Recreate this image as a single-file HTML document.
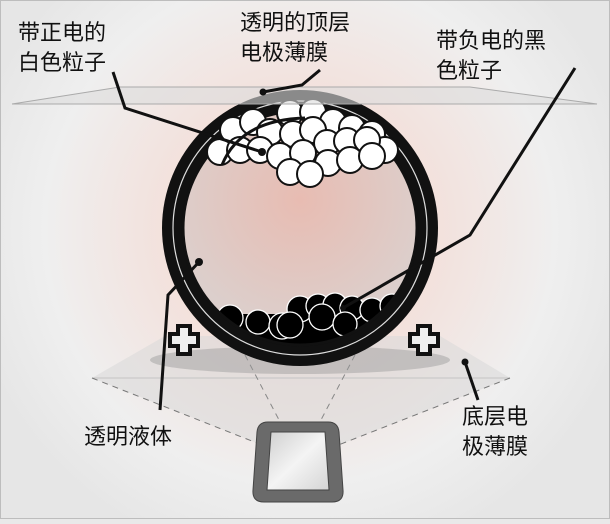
<!DOCTYPE html>
<html><head><meta charset="utf-8"><style>
html,body{margin:0;padding:0;}
body{width:610px;height:519px;overflow:hidden;background:#e9e9e9;}
svg text{font-family:"Liberation Sans","Noto Sans CJK SC",sans-serif;font-size:22px;fill:#111;}
</style></head><body>
<svg width="610" height="519" viewBox="0 0 610 519" xmlns="http://www.w3.org/2000/svg">
<defs>
<radialGradient id="bg" cx="300" cy="230" r="340" gradientUnits="userSpaceOnUse">
<stop offset="0" stop-color="#f0c2b5"/><stop offset="0.4" stop-color="#f3e1dc"/><stop offset="0.75" stop-color="#efefef"/><stop offset="1" stop-color="#e6e6e6"/>
</radialGradient>
<radialGradient id="inner" cx="300" cy="200" r="130" gradientUnits="userSpaceOnUse">
<stop offset="0" stop-color="#e8bcb2"/><stop offset="1" stop-color="#dccfcc"/>
</radialGradient>
<linearGradient id="scr" x1="0" y1="0" x2="1" y2="1"><stop offset="0" stop-color="#cfcfcf"/><stop offset="0.5" stop-color="#f4f4f4"/><stop offset="1" stop-color="#d5d5d5"/></linearGradient>
<clipPath id="ic"><circle cx="300" cy="228" r="116"/></clipPath>
</defs>
<rect width="610" height="519" fill="url(#bg)"/>
<rect x="0.5" y="0.5" width="609" height="518" fill="none" stroke="#bdbdbd"/>
<!-- bottom plane -->
<polygon points="165,336 440,336 510,378 300,460 92,378" fill="#d8d8d8" fill-opacity="0.55"/>
<line x1="92" y1="378" x2="510" y2="378" stroke="#c4c4c4"/>
<line x1="92" y1="378" x2="300" y2="460" stroke="#777" stroke-dasharray="6,5"/>
<line x1="510" y1="378" x2="300" y2="460" stroke="#777" stroke-dasharray="6,5"/>
<line x1="245" y1="355" x2="300" y2="460" stroke="#888" stroke-dasharray="6,5"/>
<line x1="355" y1="355" x2="300" y2="460" stroke="#888" stroke-dasharray="6,5"/>
<ellipse cx="300" cy="360" rx="150" ry="14" fill="#999" opacity="0.45"/>
<!-- sphere -->
<circle cx="300" cy="228" r="138" fill="#111"/>
<circle cx="300" cy="228" r="127" fill="none" stroke="#ddd" stroke-width="1.2"/>
<circle cx="300" cy="228" r="117" fill="url(#inner)"/>
<g clip-path="url(#ic)">
<rect x="150" y="314" width="300" height="100" fill="#000"/>
<g fill="#000" stroke="#fff" stroke-width="1.3">
<circle cx="230" cy="318" r="13"/><circle cx="258" cy="322" r="12"/><circle cx="282" cy="326" r="13"/>
<circle cx="300" cy="309" r="13"/><circle cx="318" cy="306" r="12"/><circle cx="335" cy="305" r="12"/>
<circle cx="352" cy="308" r="12"/><circle cx="372" cy="310" r="12"/><circle cx="392" cy="306" r="12"/>
<circle cx="290" cy="325" r="13"/><circle cx="322" cy="317" r="13"/><circle cx="345" cy="324" r="12"/>
</g>
</g>
<circle cx="300" cy="228" r="117" fill="none" stroke="#111" stroke-width="3"/>
<g fill="#fff" stroke="#111" stroke-width="2">
<circle cx="220" cy="152" r="13"/><circle cx="233" cy="130" r="13"/><circle cx="253" cy="122" r="13"/>
<circle cx="290" cy="113" r="13"/><circle cx="313" cy="112" r="13"/><circle cx="333" cy="122" r="13"/>
<circle cx="352" cy="128" r="13"/><circle cx="372" cy="134" r="13"/><circle cx="385" cy="150" r="13"/>
<circle cx="240" cy="150" r="13"/><circle cx="270" cy="132" r="13"/><circle cx="293" cy="134" r="13"/>
<circle cx="313" cy="130" r="13"/><circle cx="327" cy="143" r="13"/><circle cx="347" cy="141" r="13"/>
<circle cx="367" cy="140" r="13"/><circle cx="260" cy="150" r="13"/><circle cx="280" cy="156" r="13"/>
<circle cx="303" cy="153" r="13"/><circle cx="328" cy="163" r="13"/><circle cx="350" cy="160" r="13"/>
<circle cx="372" cy="156" r="13"/><circle cx="290" cy="172" r="13"/><circle cx="310" cy="174" r="13"/>
</g>
<path d="M222 165 Q240 120 305 118" fill="none" stroke="#111" stroke-width="3"/>
<!-- top plane (over sphere) -->
<polygon points="120,87 470,87 597,104 12,104" fill="#dcdcdc" fill-opacity="0.6" stroke="#aaa" stroke-width="1"/>
<!-- crosses -->
<g fill="#eee" stroke="#111" stroke-width="4" stroke-linejoin="miter">
<path d="M178 334h-8v12h8v8h12v-8h8v-12h-8v-8h-12z"/>
<path d="M418 334h-8v12h8v8h12v-8h8v-12h-8v-8h-12z"/>
</g>
<!-- tablet -->
<path d="M268 422 H328 Q338 422 339 432 L343 490 Q344 502 332 502 H264 Q252 502 253 490 L257 432 Q258 422 268 422Z" fill="#6a6a6a" stroke="#444"/>
<path d="M271 432 H325 L329 490 H267Z" fill="url(#scr)" stroke="#444"/>
<!-- leader lines -->
<g stroke="#111" stroke-width="3" fill="none">
<polyline points="113,72 125,108 262,152"/>
<polyline points="320,70 302,85 263,92"/>
<polyline points="575,68 470,235 343,308"/>
<polyline points="160,410 168,295 199,262"/>
<line x1="465" y1="362" x2="478" y2="400"/>
</g>
<g fill="#111"><circle cx="262" cy="152" r="4"/><circle cx="263" cy="92" r="3.5"/><circle cx="199" cy="262" r="4"/><circle cx="465" cy="362" r="3.5"/><circle cx="343" cy="308" r="3"/></g>
<!-- labels -->
<text x="18" y="40">带正电的</text>
<text x="18" y="70">白色粒子</text>
<text x="240" y="30">透明的顶层</text>
<text x="240" y="60">电极薄膜</text>
<text x="436" y="48">带负电的黑</text>
<text x="436" y="78">色粒子</text>
<text x="84" y="444">透明液体</text>
<text x="462" y="424">底层电</text>
<text x="462" y="454">极薄膜</text>
</svg>
</body></html>
